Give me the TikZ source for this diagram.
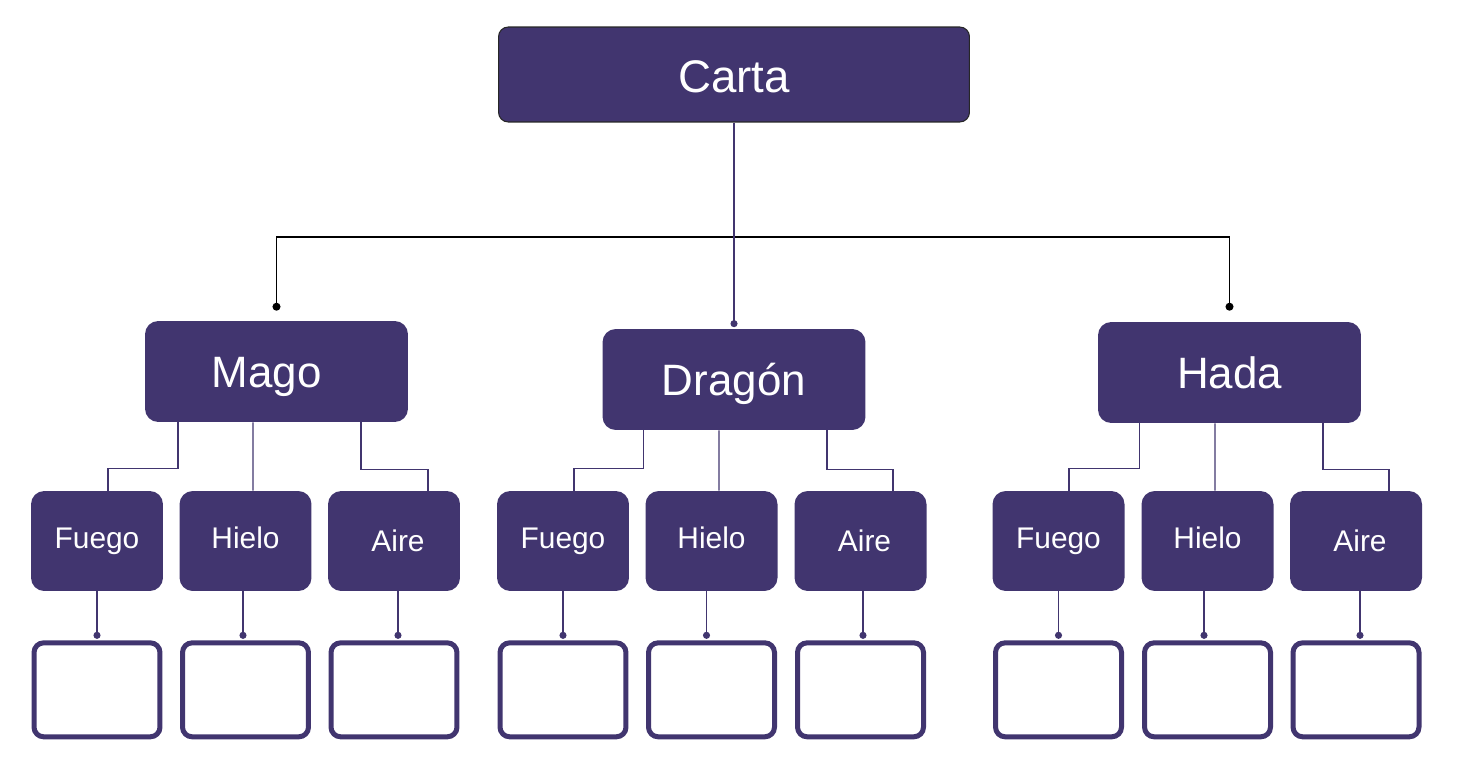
\documentclass[tikz,border=0pt]{standalone}
\usepackage{fontspec}
\setmainfont{Liberation Sans}
\usetikzlibrary{arrows.meta,positioning}
\definecolor{cardPurple}{HTML}{41356F}
\tikzset{
  rootBox/.style={draw=black!85, line width=0.6pt, fill=cardPurple, rounded corners=5.5pt,
    minimum width=9.42cm, minimum height=1.9cm, text=white, font=\fontsize{26}{30}\selectfont,
    text height=20pt, text depth=0pt},
  typeBox/.style={fill=cardPurple, rounded corners=7.5pt,
    minimum width=5.26cm, minimum height=2.02cm, text=white, font=\fontsize{25}{30}\selectfont,
    text height=18.2pt, text depth=0pt},
  elemBox/.style={fill=cardPurple, rounded corners=7.5pt,
    minimum width=2.64cm, minimum height=2cm, text=white, font=\fontsize{17}{20}\selectfont,
    text height=12.2pt, text depth=4.2pt},
  emptyBox/.style={draw=cardPurple, line width=0.1cm, fill=white, rounded corners=5.5pt,
    minimum width=2.52cm, minimum height=1.88cm},
  %% connectors
  plink/.style={draw=cardPurple, line width=0.6pt},
  blink/.style={draw=black, line width=1pt, {Circle[length=4.5pt]}-{Circle[length=4.5pt]}},
  dotlink/.style={plink, -{Circle[length=4pt]}},
}
\newcommand{\airetext}{\kern0.16cm\raisebox{-0.07cm}{Aire}}
\begin{document}
\begin{tikzpicture}[x=0.02cm, y=-0.02cm]
\useasboundingbox (0,0) rectangle (1462,776);

\node[rootBox] (carta)  at (734,74.5)    {Carta};
\node[typeBox] (mago)   at (276.5,371.5) {Mago\kern0.4cm};
\node[typeBox] (dragon) at (734,379.5)   {Dragón};
\node[typeBox] (hada)   at (1229.5,372.5){Hada};

\node[elemBox] (f1) at (97,541)     {Fuego};
\node[elemBox] (h1) at (245.5,541)  {Hielo};
\node[elemBox] (a1) at (394,541)    {\airetext};
\node[elemBox] (f2) at (563,541)    {Fuego};
\node[elemBox] (h2) at (711.5,541)  {Hielo};
\node[elemBox] (a2) at (860.5,541)  {\airetext};
\node[elemBox] (f3) at (1058.5,541) {Fuego};
\node[elemBox] (h3) at (1207.5,541) {Hielo};
\node[elemBox] (a3) at (1356,541)   {\airetext};

\foreach \n/\dx in {f1/0,h1/-0.05,a1/0.08,f2/0,h2/-0.1,a2/0.05,f3/0,h3/-0.07,a3/0.08}{
  \node[emptyBox, below=0.98cm of \n] (\n-b) {};
  \draw[dotlink] ([xshift=\dx cm]\n.south) -- ([xshift=\dx cm, yshift=0.03cm]\n-b.north);
}

% top level
\draw[blink] ([yshift=0.2cm]mago.north) -- ++(0,-74) -| ([yshift=0.22cm]hada.north);
\draw[dotlink] (carta.south) -- ([yshift=0.03cm]dragon.north);

% Mago
\draw[plink] ([xshift=-1.97cm]mago.south) -- ++(0,46) -| ([xshift=0.22cm]f1.north);
\draw[plink] ([xshift=-0.47cm]mago.south) -- ([xshift=0.15cm]h1.north);
\draw[plink] ([xshift=1.69cm]mago.south) -- ++(0,47) -| ([xshift=0.68cm]a1.north);
% Dragon
\draw[plink] ([xshift=-1.82cm]dragon.south) -- ++(0,38) -| ([xshift=0.22cm]f2.north);
\draw[plink] ([xshift=-0.30cm]dragon.south) -- ([xshift=0.15cm]h2.north);
\draw[plink] ([xshift=1.86cm]dragon.south) -- ++(0,39) -| ([xshift=0.65cm]a2.north);
% Hada
\draw[plink] ([xshift=-1.81cm]hada.south) -- ++(0,45) -| ([xshift=0.21cm]f3.north);
\draw[plink] ([xshift=-0.29cm]hada.south) -- ([xshift=0.15cm]h3.north);
\draw[plink] ([xshift=1.87cm]hada.south) -- ++(0,46) -| ([xshift=0.66cm]a3.north);

\end{tikzpicture}
\end{document}
